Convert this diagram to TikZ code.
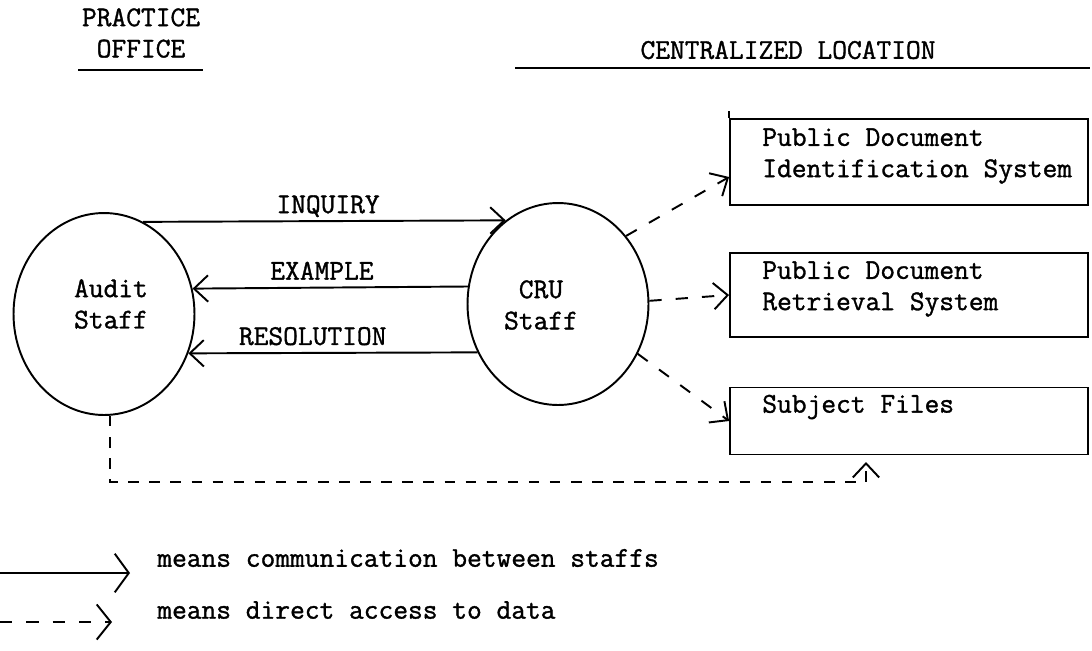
\documentclass[tikz,border=0pt]{standalone}
\usepackage{fontspec}
\usetikzlibrary{shapes.geometric,arrows.meta,positioning}
\newfontfamily\typew{Latin Modern Mono}[BoldFont={Latin Modern Mono}, BoldFeatures={FakeBold=1.2}]

\tikzset{
  staff/.style={draw, ellipse, line width=1.1pt, inner sep=0pt,
    minimum width=3.62cm, minimum height=4.04cm},
  store/.style={draw, rectangle, line width=1.1pt, inner sep=0pt, minimum width=7.16cm},
  txt/.style={font=\fontsize{16.3}{17.8}\selectfont\typew\bfseries, inner sep=0pt, align=center},
  lbl/.style={txt, text depth=0pt, above=4pt},
  barb/.style={-{Straight Barb[length=8pt,width=15pt]}},
  comm/.style={line width=1.1pt, barb},
  access/.style={line width=1.1pt, dash pattern=on 7pt off 8pt, barb},
}

\begin{document}
\begin{tikzpicture}[x=0.02cm, y=-0.02cm]
    \useasboundingbox (0,0) rectangle (1092,650);

    % Headings
    \node[txt] (hdoffice) at (141,33) {PRACTICE\\OFFICE};
    \draw[line width=1.1pt] (78,70) -- (203,70);
    \node[txt] (hdcentral) at (788,50) {CENTRALIZED LOCATION};
    \draw[line width=1.1pt] (515,68) -- (1090,68);

    % Staff circles
    \node[staff] (audit) at (104,314) {};
    \node[txt] (audittxt) at (111,304) {Audit\\Staff};
    \node[staff] (cru) at (558,304) {};
    \node[txt] (crutxt) at (541,305) {CRU\\Staff};

    % Data stores
    \node[store, minimum height=1.72cm] (pdis) at (909,162) {};
    \draw[line width=1.1pt] (pdis.north west) -- ++(0,-7);
    \node[txt, align=left, anchor=west] (pdistxt) at (762,156) {Public Document\\Identification System};
    \node[store, minimum height=1.68cm] (pdrs) at (909,295) {};
    \node[txt, align=left, anchor=west] (pdrstxt) at (762,289) {Public Document\\Retrieval System};
    \node[store, minimum height=1.34cm] (subj) at (909,421) {};
    \node[txt, align=left, anchor=west] (subjtxt) at (762,407) {Subject Files};

    % Communication between staffs
    \draw[comm] (audit.67.8) -- node[lbl, pos=0.51] {INQUIRY} (cru.122.6);
    \draw[comm] (cru.169.8) -- node[lbl, pos=0.53] {EXAMPLE} (audit.16.5);
    \draw[comm] (cru.211.9) -- node[lbl, pos=0.57] {RESOLUTION} (audit.335.1);

    % Direct access to data
    \draw[access] (cru.45) -- ([yshift=-0.3cm]pdis.west);
    \draw[access] (cru.2) -- (pdrs.west);
    \draw[access] (cru.-32) -- (subj.west);
    \coordinate (turn) at (866,482);
    \coordinate (sfin) at (866,462);
    \draw[access, dash pattern=on 6pt off 6pt] ([xshift=0.12cm]audit.south) |- (turn) -- (sfin);

    % Legend
    \coordinate (l1a) at (0,573);
    \coordinate (l1b) at (130,573);
    \draw[line width=1.1pt, -{Straight Barb[length=8pt,width=22pt]}] (l1a) -- (l1b);
    \node[txt, anchor=west] (l1txt) at (157,558) {means communication between staffs};
    \coordinate (l2a) at (0,622);
    \coordinate (l2b) at (112,622);
    \draw[access, -{Straight Barb[length=8pt,width=20pt]}] (l2a) -- (l2b);
    \node[txt, anchor=west] (l2txt) at (157,610) {means direct access to data};
\end{tikzpicture}
\end{document}
